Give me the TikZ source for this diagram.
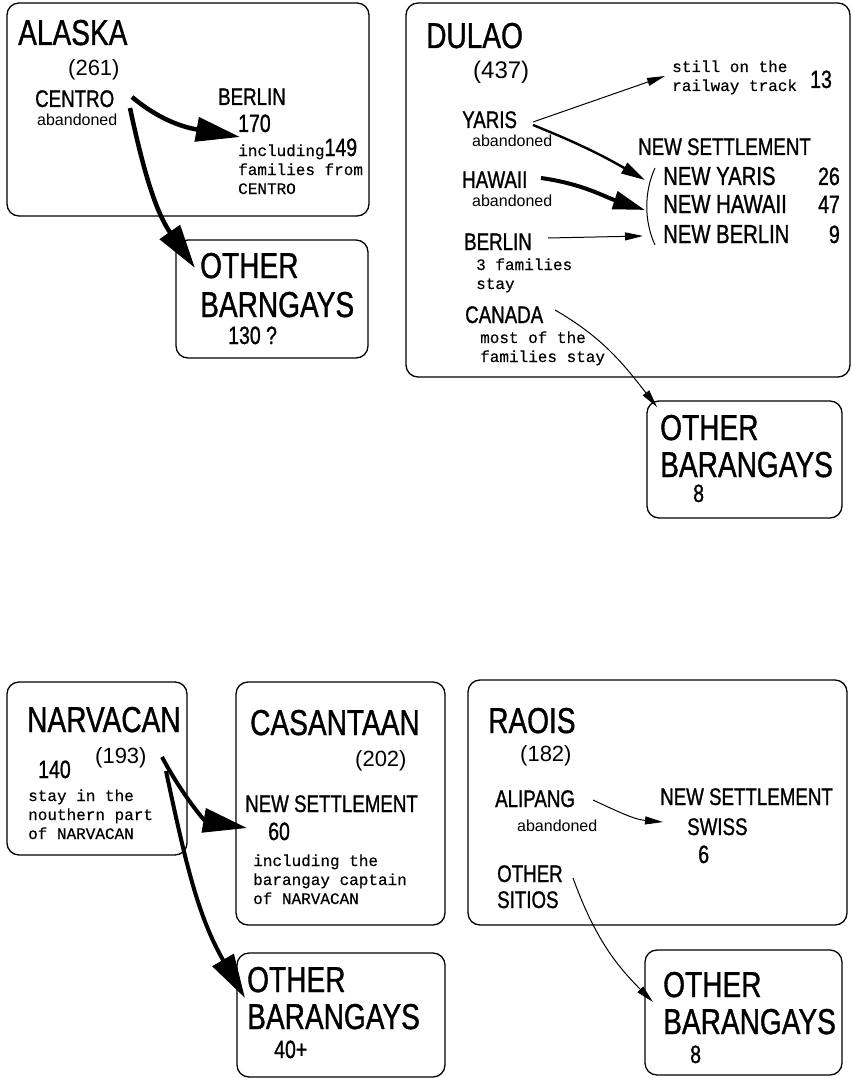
\documentclass[tikz,border=0pt]{standalone}
\usepackage{fontspec}
\usetikzlibrary{arrows.meta}
\newfontfamily\narrowsans[FakeStretch=0.78, FakeBold=1]{Liberation Sans}
\newfontfamily\plainsans{Liberation Sans}
\newfontfamily\typewriter[FakeBold=0.4]{Liberation Mono}

\begin{document}
\begin{tikzpicture}[x=1pt, y=1pt,
		box_style/.style={draw=black, line width=1.3pt, rounded corners=12pt, inner sep=0pt, outer sep=0pt},
		title_style/.style={anchor=base west, inner sep=0pt, align=left, font=\narrowsans\fontsize{36}{37}\selectfont},
		name_style/.style={anchor=base west, inner sep=0pt, align=left, font=\narrowsans\fontsize{24}{26}\selectfont},
		count_style/.style={anchor=base west, inner sep=0pt, font=\plainsans\fontsize{22}{22}\selectfont},
		num_style/.style={anchor=base west, inner sep=0pt, font=\narrowsans\fontsize{25}{25}\selectfont},
		note_style/.style={anchor=base west, inner sep=0pt, font=\plainsans\fontsize{16}{18}\selectfont},
		mono_style/.style={anchor=base west, inner sep=0pt, align=left, font=\typewriter\fontsize{16}{19}\selectfont},
		heavy_edge/.style={draw=black, line width=4.5pt, -{Triangle[length=44pt, width=24pt]}},
		strong_edge/.style={draw=black, line width=4pt, -{Triangle[length=32pt, width=18pt]}},
		edge_style/.style={draw=black, line width=2.4pt, -{Triangle[length=24pt, width=12pt]}},
		thin_edge/.style={draw=black, line width=1pt, -{Triangle[length=18pt, width=8pt]}}]
		\useasboundingbox (0,0) rectangle (852,-1078);
		% ALASKA (multi-line nodes sit on their last baseline)
		\node[box_style, minimum width=362pt, minimum height=213pt] (alaska_box) at (188,-109.5) {};
		\node[title_style] (alaska) at (18,-45) {ALASKA};
		\node[count_style] (alaska_total) at (68,-76) {(261)};
		\node[name_style] (centro) at (35,-107) {CENTRO};
		\node[note_style] (centro_note) at (37,-126) {abandoned};
		\node[name_style] (berlin) at (218,-105) {BERLIN};
		\node[num_style] (berlin_num) at (238,-132) {170};
		\node[mono_style] (berlin_note) at (238,-194) {including{\narrowsans\fontsize{25}{25}\selectfont 149}\\families from\\CENTRO};
		\node[box_style, minimum width=192pt, minimum height=118pt] (oba_box) at (272,-299) {};
		\node[title_style, font=\narrowsans\fontsize{36}{39}\selectfont] (oba_title) at (200,-317) {OTHER\\BARNGAYS};
		\node[num_style] (oba_num) at (228,-344) {130 ?};
		\draw[heavy_edge] ([shift={(97,10)}]centro.base west) to[out=-40, in=170] ([shift={(2,-5)}]berlin_num.base west);
		\draw[heavy_edge] ([shift={(95,-1)}]centro.base west) to[out=-78, in=125] ([shift={(-5,49)}]oba_title.base west);
		% DULAO
		\node[box_style, minimum width=444pt, minimum height=374pt] (dulao_box) at (628,-190) {};
		\node[title_style] (dulao) at (426,-48) {DULAO};
		\node[count_style, font=\plainsans\fontsize{24}{24}\selectfont] (dulao_total) at (473,-79) {(437)};
		\node[mono_style] (still) at (672,-91) {still on the\\railway track};
		\node[num_style] (still_num) at (810,-88) {13};
		\node[name_style] (yaris) at (462,-128) {YARIS};
		\node[note_style] (yaris_note) at (472,-147) {abandoned};
		\node[name_style] (hawaii) at (462,-188) {HAWAII};
		\node[note_style] (hawaii_note) at (472,-207) {abandoned};
		\node[name_style] (dberlin) at (464,-250) {BERLIN};
		\node[mono_style] (dberlin_note) at (476,-289) {3 families\\stay};
		\node[name_style] (canada) at (465,-323) {CANADA};
		\node[mono_style] (canada_note) at (480,-362) {most of the\\families stay};
		\node[name_style] (dulao_new) at (638,-155) {NEW SETTLEMENT};
		\node[name_style, font=\narrowsans\fontsize{26}{26}\selectfont] (new_yaris) at (663,-185) {NEW YARIS};
		\node[name_style, font=\narrowsans\fontsize{26}{26}\selectfont] (new_hawaii) at (663,-213) {NEW HAWAII};
		\node[name_style, font=\narrowsans\fontsize{26}{26}\selectfont] (new_berlin) at (663,-243) {NEW BERLIN};
		\node[num_style, anchor=base east] (new_yaris_num) at (840,-185) {26};
		\node[num_style, anchor=base east] (new_hawaii_num) at (840,-213) {47};
		\node[num_style, anchor=base east] (new_berlin_num) at (840,-243) {9};
		\draw[line width=1pt] (655,-168) .. controls (644,-192) and (644,-221) .. (655,-245);
		\node[box_style, minimum width=195pt, minimum height=117pt] (obd_box) at (744.5,-459.5) {};
		\node[title_style] (obd_title) at (660,-477) {OTHER\\BARANGAYS};
		\node[num_style] (obd_num) at (693,-502) {8};
		\draw[thin_edge] ([shift={(71,6)}]yaris.base west) -- ([shift={(-7,15)}]still.base west);
		\draw[edge_style] ([shift={(71,3)}]yaris.base west) to[out=-22, in=150] ([shift={(-18,5)}]new_yaris.base west);
		\draw[strong_edge] ([shift={(79,10)}]hawaii.base west) to[out=-8, in=162] ([shift={(-18,3)}]new_hawaii.base west);
		\draw[thin_edge] ([shift={(84,12)}]dberlin.base west) -- ([shift={(-20,7)}]new_berlin.base west);
		\draw[thin_edge] ([shift={(90,13)}]canada.base west) to[out=-30, in=128] ([shift={(-3,70)}]obd_title.base west);
		% NARVACAN
		\node[box_style, minimum width=180pt, minimum height=173pt] (narvacan_box) at (97,-768.5) {};
		\node[title_style] (narvacan) at (27,-732) {NARVACAN};
		\node[count_style] (narvacan_total) at (95,-763) {(193)};
		\node[num_style] (narvacan_num) at (38,-778) {140};
		\node[mono_style] (narvacan_note) at (28,-839) {stay in the\\nouthern part\\of NARVACAN};
		% CASANTAAN
		\node[box_style, minimum width=209pt, minimum height=243pt] (casantaan_box) at (340.5,-803.5) {};
		\node[title_style] (casantaan) at (250,-735) {CASANTAAN};
		\node[count_style] (casantaan_total) at (355,-766) {(202)};
		\node[name_style] (cas_new) at (245,-812) {NEW SETTLEMENT};
		\node[num_style] (cas_num) at (268,-840) {60};
		\node[mono_style] (cas_note) at (253,-904) {including the\\barangay captain\\of NARVACAN};
		\node[box_style, minimum width=208pt, minimum height=124pt] (obn_box) at (341,-1015) {};
		\node[title_style] (obn_title) at (247,-1029) {OTHER\\BARANGAYS};
		\node[num_style] (obn_num) at (274,-1058) {40+};
		\draw[heavy_edge, line width=4pt] ([shift={(67,6)}]narvacan_total.base west) to[out=-62, in=170] ([shift={(-21,12)}]cas_num.base west);
		\draw[heavy_edge, line width=4pt] ([shift={(71,-8)}]narvacan_total.base west) to[out=-78, in=120] ([shift={(-2,31)}]obn_title.base west);
		% RAOIS
		\node[box_style, minimum width=379pt, minimum height=245pt] (raois_box) at (657.5,-802.5) {};
		\node[title_style] (raois) at (488,-733) {RAOIS};
		\node[count_style] (raois_total) at (520,-761) {(182)};
		\node[name_style] (alipang) at (495,-807) {ALIPANG};
		\node[note_style] (alipang_note) at (517,-831) {abandoned};
		\node[name_style] (raois_new) at (660,-805) {NEW SETTLEMENT};
		\node[name_style] (swiss) at (687,-835) {SWISS};
		\node[num_style] (swiss_num) at (698,-863) {6};
		\node[name_style] (sitios) at (497,-908) {OTHER\\SITIOS};
		\node[box_style, minimum width=197pt, minimum height=125pt] (obr_box) at (743.5,-1012.5) {};
		\node[title_style] (obr_title) at (663,-1034) {OTHER\\BARANGAYS};
		\node[num_style] (obr_num) at (690,-1063) {8};
		\draw[thin_edge] ([shift={(98,7)}]alipang.base west) to[out=-25, in=175] ([shift={(-24,13)}]swiss.base west);
		\draw[thin_edge] ([shift={(76,30)}]sitios.base west) to[out=-70, in=135] ([shift={(-10,32)}]obr_title.base west);
		\end{tikzpicture}
\end{document}
